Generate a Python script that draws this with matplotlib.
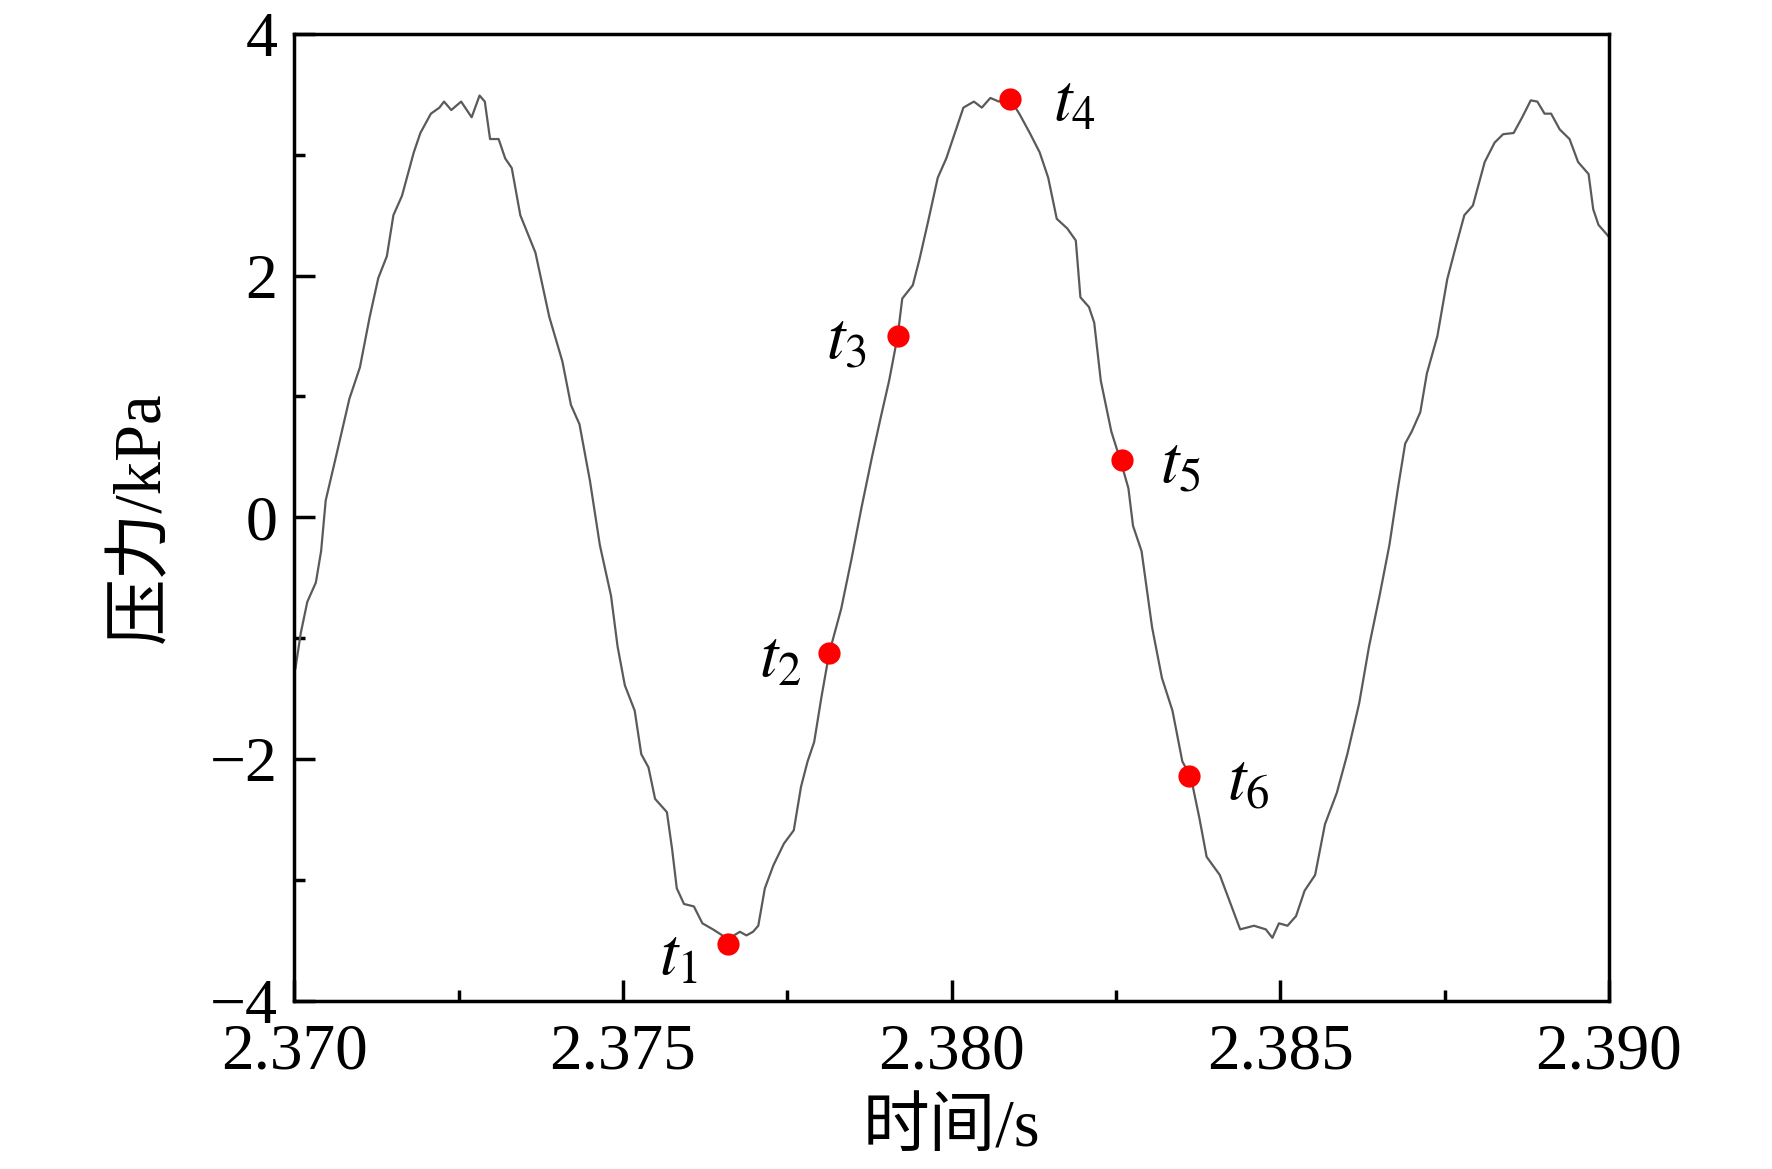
import matplotlib
matplotlib.use("Agg")
import matplotlib.pyplot as plt
from matplotlib.ticker import MultipleLocator, FuncFormatter

plt.rcParams['font.family'] = ['Liberation Serif', 'Noto Sans CJK SC']
plt.rcParams['mathtext.fontset'] = 'stix'
plt.rcParams['axes.unicode_minus'] = True

time_s = [
    2.37002, 2.37010, 2.37020, 2.37033, 2.37041, 2.37048, 2.37064, 2.37084, 2.37100, 2.37115,
    2.37128, 2.37141, 2.37151, 2.37164, 2.37182, 2.37192, 2.37208, 2.37221, 2.37228, 2.37239,
    2.37254, 2.37270, 2.37282, 2.37290, 2.37298, 2.37311, 2.37321, 2.37331, 2.37344, 2.37367,
    2.37388, 2.37408, 2.37421, 2.37434, 2.37450, 2.37465,
    2.37482, 2.37492, 2.37503, 2.37518, 2.37528, 2.37539, 2.37549, 2.37567, 2.37575, 2.37582,
    2.37593, 2.37608, 2.37621, 2.37637, 2.37660, 2.37678, 2.37688, 2.37698, 2.37706, 2.37716,
    2.37729, 2.37745, 2.37760, 2.37771, 2.37781, 2.37791, 2.37802, 2.37814, 2.37832, 2.37848,
    2.37863, 2.37879, 2.37892, 2.37905, 2.37918, 2.37925, 2.37941, 2.37951, 2.37964, 2.37979,
    2.37992,
    2.38005, 2.38018, 2.38034, 2.38046, 2.38059, 2.38072, 2.38088, 2.38103, 2.38119, 2.38134,
    2.38147, 2.38160, 2.38176, 2.38189, 2.38196, 2.38209, 2.38217, 2.38227, 2.38243, 2.38258,
    2.38269, 2.38276, 2.38289, 2.38305, 2.38320, 2.38336, 2.38351, 2.38364, 2.38377, 2.38388,
    2.38408, 2.38426, 2.38439, 2.38460, 2.38478, 2.38488, 2.38498, 2.38511,
    2.38524, 2.38537, 2.38553, 2.38568, 2.38586, 2.38602, 2.38620, 2.38635, 2.38651, 2.38666,
    2.38679, 2.38690, 2.38700, 2.38713, 2.38723, 2.38739, 2.38754, 2.38767, 2.38780, 2.38793,
    2.38811, 2.38826, 2.38839, 2.38855, 2.38868, 2.38881, 2.38891, 2.38902, 2.38912, 2.38925,
    2.38940, 2.38953, 2.38969, 2.38976, 2.38984, 2.39000,
]
pressure_kpa = [
    -1.25, -0.96, -0.70, -0.54, -0.28, 0.14, 0.51, 0.98, 1.24, 1.66,
    1.98, 2.16, 2.50, 2.66, 3.02, 3.18, 3.34, 3.39, 3.44, 3.37,
    3.44, 3.31, 3.49, 3.44, 3.13, 3.13, 2.97, 2.89, 2.50, 2.19,
    1.66, 1.29, 0.93, 0.77, 0.30, -0.23,
    -0.65, -1.07, -1.39, -1.60, -1.96, -2.07, -2.33, -2.44, -2.75, -3.07,
    -3.20, -3.22, -3.36, -3.41, -3.49, -3.43, -3.46, -3.43, -3.38, -3.07,
    -2.88, -2.70, -2.59, -2.23, -2.02, -1.86, -1.49, -1.12, -0.76, -0.34,
    0.08, 0.50, 0.82, 1.13, 1.50, 1.81, 1.92, 2.13, 2.44, 2.81,
    2.97,
    3.18, 3.39, 3.44, 3.39, 3.47, 3.44, 3.47, 3.34, 3.18, 3.02,
    2.81, 2.47, 2.39, 2.29, 1.82, 1.74, 1.61, 1.13, 0.71, 0.45,
    0.24, -0.07, -0.28, -0.91, -1.33, -1.60, -2.02, -2.15, -2.49, -2.81,
    -2.96, -3.22, -3.41, -3.38, -3.41, -3.48, -3.36, -3.38,
    -3.30, -3.09, -2.96, -2.54, -2.28, -1.96, -1.54, -1.07, -0.65, -0.23,
    0.24, 0.61, 0.71, 0.87, 1.19, 1.50, 1.97, 2.24, 2.50, 2.58,
    2.94, 3.10, 3.17, 3.18, 3.31, 3.45, 3.44, 3.34, 3.34, 3.21,
    3.13, 2.94, 2.84, 2.55, 2.42, 2.32,
]

# marked instants
mark_labels = ['$t_1$', '$t_2$', '$t_3$', '$t_4$', '$t_5$', '$t_6$']
mark_time = [2.37660, 2.37814, 2.37918, 2.38089, 2.38259, 2.38361]
mark_pressure = [-3.53, -1.12, 1.50, 3.46, 0.47, -2.14]
label_offsets = [(-36, -10), (-35, -5), (-37, -4), (46, -3), (42, -4), (43, -5)]

xticks = [2.370, 2.375, 2.380, 2.385, 2.390]
yticks = [-4, -2, 0, 2, 4]

fig = plt.figure(figsize=(17.72, 11.69), dpi=100)
ax = fig.add_axes([0.166, 0.144, 0.742, 0.827])

ax.plot(time_s, pressure_kpa, color='#5a5a5a', lw=1.6, zorder=2)
ax.plot(mark_time, mark_pressure, 'o', color='#ff0000', ms=16, mec='none', zorder=3)
for lab, x, y, off in zip(mark_labels, mark_time, mark_pressure, label_offsets):
    ax.annotate(lab, (x, y), xytext=off, textcoords='offset points',
                ha='center', va='center', fontsize=48)

ax.set_xlim(2.370, 2.390)
ax.set_ylim(-4, 4)
ax.set_xticks(xticks)
ax.set_yticks(yticks)
ax.xaxis.set_minor_locator(MultipleLocator(0.0025))
ax.yaxis.set_minor_locator(MultipleLocator(1))
ax.xaxis.set_major_formatter(FuncFormatter(lambda v, p: f'{v:.3f}'))
ax.yaxis.set_major_formatter(FuncFormatter(lambda v, p: f'{int(round(v))}'.replace('-', '\u2212')))

ax.tick_params(which='both', direction='in', top=False, right=False, width=2.5)
ax.tick_params(axis='x', which='major', length=15, pad=16, labelsize=47)
ax.tick_params(axis='y', which='major', length=15, pad=12, labelsize=46)
ax.tick_params(which='minor', length=8)
for s in ax.spines.values():
    s.set_linewidth(2.5)

ax.set_xlabel('时间/s', fontsize=48, labelpad=12)
ax.set_ylabel('压力/kPa', fontsize=48, labelpad=26)

fig.savefig('out.png', dpi=100)
